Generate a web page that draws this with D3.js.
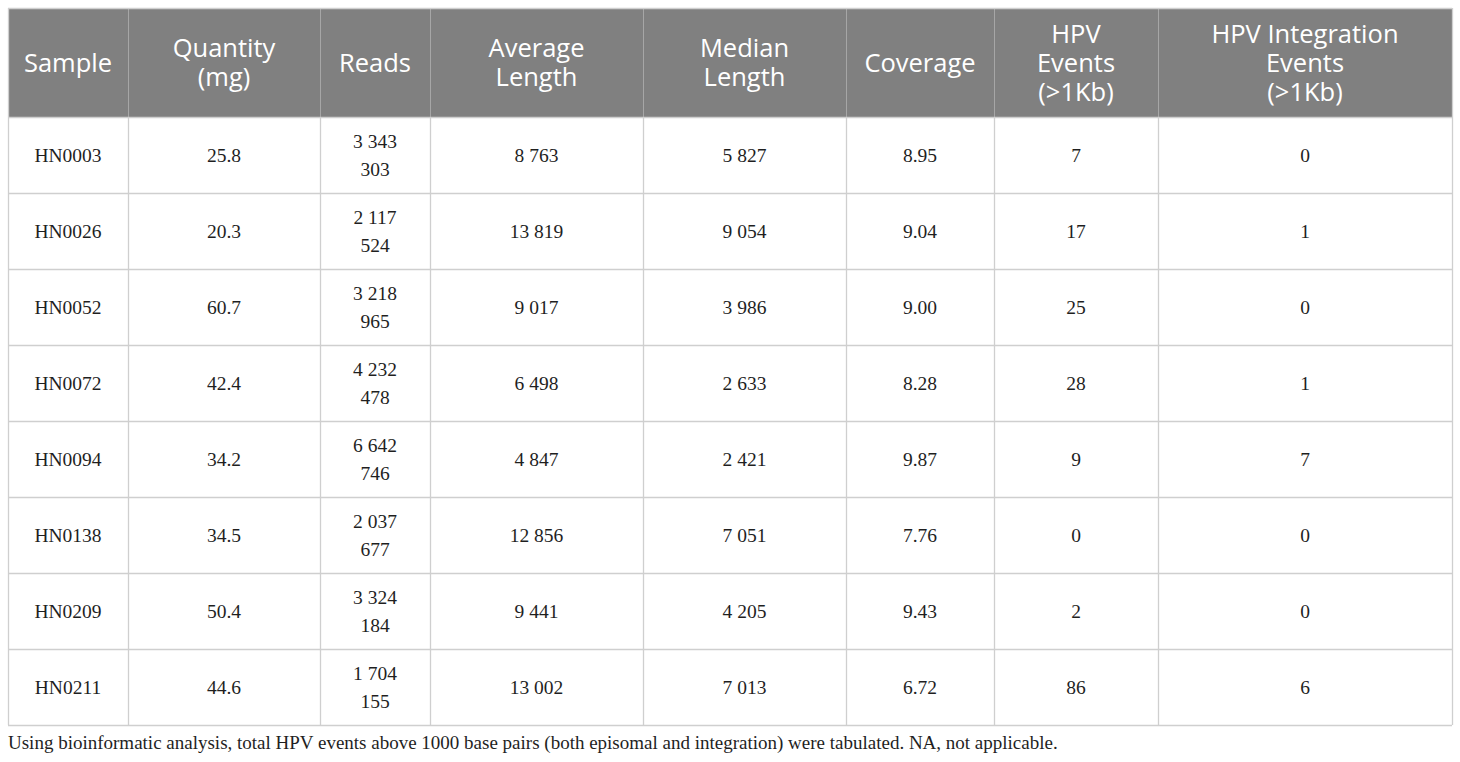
<!DOCTYPE html>
<html>
<head>
<meta charset="utf-8">
<script src="https://cdn.jsdelivr.net/npm/d3@7"></script>
<style>
  html, body { margin: 0; padding: 0; background: #fff; }
  svg { display: block; }
</style>
</head>
<body>
<svg id="chart" width="1460" height="762"></svg>
<script>
// ---- data ----
const headers = [
  ["Sample"],
  ["Quantity", "(mg)"],
  ["Reads"],
  ["Average", "Length"],
  ["Median", "Length"],
  ["Coverage"],
  ["HPV", "Events", "(>1Kb)"],
  ["HPV Integration", "Events", "(>1Kb)"]
];
const samples = ["HN0003", "HN0026", "HN0052", "HN0072", "HN0094", "HN0138", "HN0209", "HN0211"];
const quantity = ["25.8", "20.3", "60.7", "42.4", "34.2", "34.5", "50.4", "44.6"];
const reads = [3343303, 2117524, 3218965, 4232478, 6642746, 2037677, 3324184, 1704155];
const avgLength = [8763, 13819, 9017, 6498, 4847, 12856, 9441, 13002];
const medLength = [5827, 9054, 3986, 2633, 2421, 7051, 4205, 7013];
const coverage = ["8.95", "9.04", "9.00", "8.28", "9.87", "7.76", "9.43", "6.72"];
const hpvEvents = [7, 17, 25, 28, 9, 0, 2, 86];
const integrationEvents = [0, 1, 0, 1, 7, 0, 0, 6];
const footnote = "Using bioinformatic analysis, total HPV events above 1000 base pairs (both episomal and integration) were tabulated. NA, not applicable.";

// ---- layout ----
const colEdges = [8, 128, 320, 430, 643, 846, 994, 1158, 1452];
const tableTop = 8, headerBottom = 117, tableBottom = 725;

const loc = d3.formatLocale({ decimal: ".", thousands: " ", grouping: [3], currency: ["", ""] });
const fmt = loc.format(",d");

function readsLines(v) {
  const s = fmt(v);
  const i = s.lastIndexOf(" ");
  return [s.slice(0, i), s.slice(i + 1)];
}

const rows = samples.map((s, i) => [
  [s], [quantity[i]], readsLines(reads[i]), [fmt(avgLength[i])], [fmt(medLength[i])],
  [coverage[i]], [String(hpvEvents[i])], [String(integrationEvents[i])]
]);

const svg = d3.select("#chart");

const y = d3.scaleBand().domain(d3.range(samples.length)).range([headerBottom, tableBottom]).padding(0);
const colCenter = i => (colEdges[i] + colEdges[i + 1]) / 2;

// header background
svg.append("rect")
  .attr("x", colEdges[0]).attr("y", tableTop)
  .attr("width", colEdges[colEdges.length - 1] - colEdges[0])
  .attr("height", headerBottom - tableTop)
  .attr("fill", "#808080");

// header vertical separators
svg.selectAll("line.hsep").data(colEdges.slice(1, -1)).join("line")
  .attr("x1", d => d + 0.5).attr("x2", d => d + 0.5)
  .attr("y1", tableTop).attr("y2", headerBottom)
  .attr("stroke", "#a6a6a6").attr("stroke-width", 1);

// body grid horizontal
svg.selectAll("line.hrow").data(d3.range(samples.length + 1)).join("line")
  .attr("x1", colEdges[0]).attr("x2", colEdges[colEdges.length - 1])
  .attr("y1", d => (d === samples.length ? tableBottom : y(d)) + 0.5)
  .attr("y2", d => (d === samples.length ? tableBottom : y(d)) + 0.5)
  .attr("stroke", "#cfcfcf").attr("stroke-width", 1.3);

// body grid vertical
svg.selectAll("line.vcol").data(colEdges).join("line")
  .attr("x1", d => d + 0.5).attr("x2", d => d + 0.5)
  .attr("y1", (d, i) => (i === 0 || i === colEdges.length - 1) ? tableTop : headerBottom)
  .attr("y2", tableBottom)
  .attr("stroke", "#cfcfcf").attr("stroke-width", 1.3);

// top border
svg.append("line")
  .attr("x1", colEdges[0]).attr("x2", colEdges[colEdges.length - 1])
  .attr("y1", tableTop + 0.5).attr("y2", tableTop + 0.5)
  .attr("stroke", "#cfcfcf").attr("stroke-width", 1.3);

// header text
const hLine = 29;
const hMid = (tableTop + headerBottom) / 2;
svg.selectAll("text.head").data(headers).join("text")
  .attr("class", "head")
  .attr("font-family", "'Open Sans', sans-serif")
  .attr("font-size", 25.5)
  .attr("fill", "#ffffff")
  .attr("text-anchor", "middle")
  .each(function (lines, i) {
    const t = d3.select(this);
    const start = hMid - (lines.length - 1) * hLine / 2;
    lines.forEach((ln, k) => {
      t.append("tspan").attr("x", colCenter(i)).attr("y", start + k * hLine + 9).text(ln);
    });
  });

// body text
const bLine = 28;
rows.forEach((cells, r) => {
  const mid = y(r) + y.bandwidth() / 2;
  cells.forEach((lines, c) => {
    const t = svg.append("text")
      .attr("font-family", "'Liberation Serif', 'Times New Roman', serif")
      .attr("font-size", 19.5)
      .attr("fill", "#1f1f1f")
      .attr("text-anchor", "middle");
    const start = mid - (lines.length - 1) * bLine / 2;
    lines.forEach((ln, k) => {
      t.append("tspan").attr("x", colCenter(c)).attr("y", start + k * bLine + 6.5).text(ln);
    });
  });
});

// footnote
svg.append("text")
  .attr("x", 8).attr("y", 749)
  .attr("font-family", "'Liberation Serif', 'Times New Roman', serif")
  .attr("font-size", 19)
  .attr("fill", "#1f1f1f")
  .text(footnote);
</script>
</body>
</html>
